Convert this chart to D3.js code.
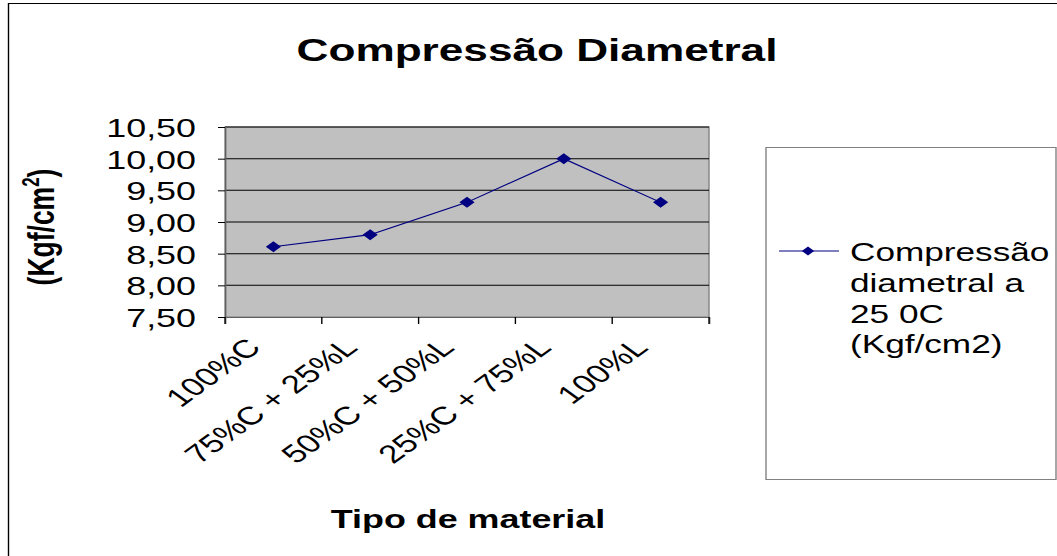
<!DOCTYPE html>
<html><head><meta charset="utf-8">
<script src="https://cdn.jsdelivr.net/npm/d3@7"></script>
<style>
html,body{margin:0;padding:0;background:#fff;}
text{font-family:"Liberation Sans",Arial,sans-serif;}
</style></head>
<body>
<svg id="chart" width="1057" height="556"></svg>
<script>
const categories = ["100%C", "75%C + 25%L", "50%C + 50%L", "25%C + 75%L", "100%L"];
const values = [8.61, 8.80, 9.31, 10.00, 9.31];
const yTicks = [7.5, 8.0, 8.5, 9.0, 9.5, 10.0, 10.5];
const legendLines = ["Compressão", "diametral a", "25 0C", "(Kgf/cm2)"];
const titleText = "Compressão Diametral";
const xTitle = "Tipo de material";

(function(){
const SX = 1.38;
const svg = d3.select("#chart");
svg.append("rect").attr("x",0).attr("y",0).attr("width",1057).attr("height",556).attr("fill","#fff");
const g = svg.append("g").attr("transform", `scale(${SX},1)`);

// outer border
g.append("rect").attr("x", 8.5/SX).attr("y", 3.5).attr("width", 1100/SX).attr("height", 600)
  .attr("fill","none").attr("stroke","#000").attr("stroke-width",1);

const pLeft = 225/SX, pRight = 709/SX, pTop = 127, pBottom = 317;
const x = d3.scaleBand().domain(categories).range([pLeft, pRight]);
const y = d3.scaleLinear().domain([7.5, 10.5]).range([pBottom, pTop]);
const fmt = v => d3.format(".2f")(v).replace(".", ",");

// plot area
g.append("rect").attr("x", pLeft).attr("y", pTop).attr("width", pRight-pLeft).attr("height", pBottom-pTop)
  .attr("fill","#c0c0c0").attr("stroke","#808080").attr("stroke-width",1);

// gridlines
g.append("g").selectAll("line").data(yTicks.slice(1)).join("line")
  .attr("x1", pLeft).attr("x2", pRight).attr("y1", d=>y(d)).attr("y2", d=>y(d))
  .attr("stroke","#000").attr("stroke-width",1);

// y axis
const yAxis = g.append("g").attr("transform",`translate(${pLeft},0)`)
  .call(d3.axisLeft(y).tickValues(yTicks).tickSize(7/SX).tickPadding(22/SX).tickFormat(fmt));
yAxis.select(".domain").attr("stroke","#606060");
yAxis.selectAll(".tick line").attr("stroke","#000");
yAxis.selectAll(".tick text").attr("font-size",26).attr("fill","#000")
  .attr("font-family",'"Liberation Sans",Arial,sans-serif').attr("dy","0.36em");

// x axis
const xAxis = g.append("g").attr("transform",`translate(0,${pBottom})`)
  .call(d3.axisBottom(x).tickSize(7).tickFormat(""));
xAxis.select(".domain").attr("stroke","#606060");
xAxis.selectAll(".tick line").attr("transform", `translate(${-x.bandwidth()/2},0)`).attr("stroke","#000");
xAxis.append("line").attr("x1", pRight).attr("x2", pRight).attr("y1",0).attr("y2",7).attr("stroke","#000");

// x tick labels rotated
g.append("g").selectAll("text").data(categories).join("text")
  .attr("transform", d => `translate(${x(d)+x.bandwidth()/2 - 8},${pBottom+32}) rotate(-45)`)
  .attr("text-anchor","end").attr("font-size",25.5).attr("fill","#000").text(d=>d);

// line
const lineGen = d3.line().x((d,i)=>x(categories[i])+x.bandwidth()/2).y(d=>y(d));
g.append("path").datum(values).attr("d", lineGen).attr("fill","none").attr("stroke","#000080").attr("stroke-width",1.1);
const diamond = s => `M0,${-s}L${s},0L0,${s}L${-s},0Z`;
g.append("g").selectAll("path").data(values).join("path")
  .attr("transform",(d,i)=>`translate(${x(categories[i])+x.bandwidth()/2},${y(d)})`)
  .attr("d", diamond(5.5)).attr("fill","#000080");

// title
g.append("text").attr("x", 537/SX).attr("y", 61).attr("text-anchor","middle")
  .attr("font-size",32).attr("font-weight","bold").attr("fill","#000").text(titleText);

// x title
g.append("text").attr("x", 468/SX).attr("y", 528).attr("text-anchor","middle")
  .attr("font-size",26).attr("font-weight","bold").attr("fill","#000").text(xTitle);

// y title
const yt = g.append("text").attr("transform",`translate(${54/SX},${227}) rotate(-90)`)
  .attr("text-anchor","middle").attr("font-size",26.5).attr("font-weight","bold").attr("fill","#000");
yt.append("tspan").text("(Kgf/cm");
yt.append("tspan").attr("font-size",17).attr("dy",-11).text("2");
yt.append("tspan").attr("dy",11).text(")");

// legend
g.append("rect").attr("x",766/SX).attr("y",147.5).attr("width",(1056-766)/SX).attr("height",332)
  .attr("fill","#fff").attr("stroke","#808080").attr("stroke-width",1);
g.append("line").attr("x1",779/SX).attr("x2",839/SX).attr("y1",251).attr("y2",251)
  .attr("stroke","#000080").attr("stroke-width",1.1);
g.append("path").attr("transform",`translate(${808/SX},251)`).attr("d",diamond(4.5)).attr("fill","#000080");
g.append("g").selectAll("text").data(legendLines).join("text")
  .attr("x",850/SX).attr("y",(d,i)=>261+i*30.8).attr("font-size",25.5).attr("fill","#000").text(d=>d);
})();
</script>
</body></html>
